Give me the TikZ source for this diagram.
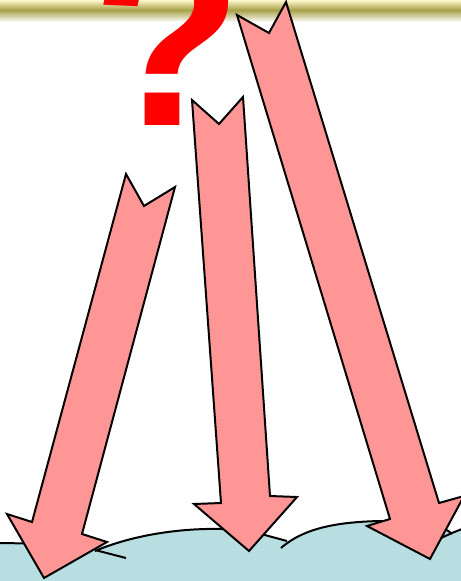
\documentclass[tikz,border=0pt]{standalone}
\usepackage{fontspec}
\newfontfamily\qfont{Liberation Sans}
\definecolor{arrowpink}{RGB}{255,150,150}
\definecolor{cloudblue}{RGB}{185,222,226}
\definecolor{barolive}{RGB}{168,160,72}
\definecolor{barlight}{RGB}{255,248,205}

\begin{document}
\begin{tikzpicture}[x=0.03cm,y=-0.03cm,
  pinkarrow/.style={fill=arrowpink,draw=black,line width=1.7pt,line join=miter},
  cloudline/.style={draw=black,line width=1.7pt}]
\useasboundingbox (0,0) rectangle (461,581);
\clip (0,0) rectangle (461,581);
\fill[white] (0,0) rectangle (461,581);
\shade[top color=barlight,bottom color=barolive] (0,0) rectangle (461,10);
\shade[top color=barolive,bottom color=white] (0,10) rectangle (461,22);
\node[anchor=base west,inner sep=0pt,text=red,font=\qfont\bfseries\fontsize{210}{210}\selectfont] (qmark) at (92,125) {?};
\fill[cloudblue] (0,581) -- (0,543) -- (95,549) .. controls (140,532) and (200,525) .. (250,531) -- (287,541)
  -- (283,545) .. controls (305,527) and (340,522) .. (380,521) .. controls (420,521) and (445,526) .. (452,534)
  -- (461,529) -- (461,581) -- cycle;
\draw[cloudline] (0,543) -- (60,544);
\draw[cloudline] (95,550) -- (126,558);
\draw[cloudline] (95,551) .. controls (140,532) and (200,525) .. (250,531) -- (287,541);
\draw[cloudline] (281,548) .. controls (305,527) and (340,522) .. (380,521) .. controls (420,521) and (445,526) .. (452,534);
\draw[cloudline] (441,538) -- (452,533) -- (462,529);
\draw[pinkarrow] (126,174) -- (144,206) -- (175,187) -- (82,534) -- (107,542) -- (44,578) -- (7,514) -- (32,522) -- cycle;
\draw[pinkarrow] (192,100) -- (219,124) -- (243,97) -- (270,496) -- (297,497) -- (249,551) -- (194,504) -- (221,503) -- cycle;
\draw[pinkarrow] (237,15) -- (269,33) -- (286,2) -- (439,503) -- (464,496) -- (430,559) -- (367,526) -- (390,519) -- cycle;
\end{tikzpicture}
\end{document}
